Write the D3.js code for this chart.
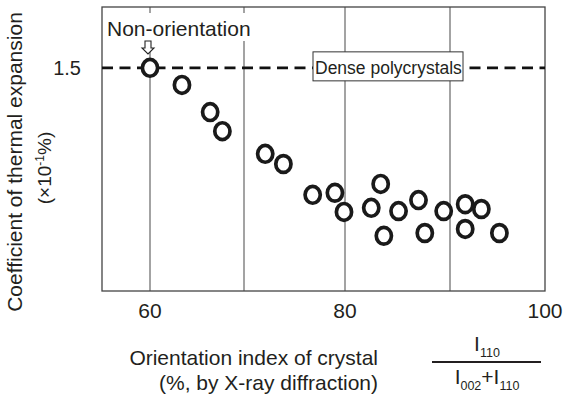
<!DOCTYPE html>
<html>
<head>
<meta charset="utf-8">
<script src="https://cdn.jsdelivr.net/npm/d3@7"></script>
<style>
  body { margin: 0; background: #ffffff; }
  text { font-family: "Liberation Sans", Arial, sans-serif; fill: #231f20; }
</style>
</head>
<body>
<div id="chart"></div>
<script>
// orientation index (%) and thermal expansion (x10^-1 %)
var orientation = [60.0, 63.4, 66.4, 67.7, 72.1, 73.9, 76.8, 79.0, 79.9, 82.5,
  83.4, 83.7, 85.1, 87.0, 87.6, 89.4, 91.6, 91.6, 93.3, 95.2];
var expansion = [1.500, 1.458, 1.391, 1.344, 1.288, 1.263, 1.187, 1.192, 1.145, 1.155,
  1.214, 1.086, 1.147, 1.174, 1.093, 1.147, 1.164, 1.103, 1.152, 1.093];
var xTicks = [60, 80, 100];
var gridTicks = [60, 70, 80, 90];
var yTicks = [1.5];
var densePoly = 1.5;

var W = 563, H = 394;
var pLeft = 102, pRight = 545, pTop = 7, pBottom = 291;

var svg = d3.select("#chart")
    .append("svg")
    .attr("width", W)
    .attr("height", H);

// the original scan is not quite even between gridlines
var x = d3.scaleLinear()
    .domain([55, 60, 70, 80, 90, 100])
    .range([pLeft + 1, 150, 244, 345, 450, pRight]);

var y = d3.scaleLinear()
    .domain([0.95, 1.65])
    .range([pBottom, pTop]);

//GRIDLINES
svg.selectAll(".grid")
    .data(gridTicks)
    .enter()
    .append("line")
    .attr("class", "grid")
    .attr("x1", function (d) { return x(d); })
    .attr("x2", function (d) { return x(d); })
    .attr("y1", pTop)
    .attr("y2", pBottom)
    .style("stroke", "#666")
    .style("stroke-width", 1.2);

//FRAME
svg.append("rect")
    .attr("x", pLeft)
    .attr("y", pTop)
    .attr("width", pRight - pLeft)
    .attr("height", pBottom - pTop)
    .style("fill", "none")
    .style("stroke", "#444")
    .style("stroke-width", 1.3);

//DENSE POLYCRYSTALS LINE
svg.append("line")
    .attr("x1", pLeft)
    .attr("x2", pRight)
    .attr("y1", y(densePoly))
    .attr("y2", y(densePoly))
    .style("stroke", "#111")
    .style("stroke-width", 2.6)
    .style("stroke-dasharray", "11,6.5");

svg.append("rect")
    .attr("x", 313)
    .attr("y", y(densePoly) - 16)
    .attr("width", 150)
    .attr("height", 29)
    .style("fill", "#fff")
    .style("stroke", "#333")
    .style("stroke-width", 1);

svg.append("text")
    .attr("x", 315)
    .attr("y", y(densePoly) + 6)
    .style("font-size", "17.5px")
    .text("Dense polycrystals");

//NON-ORIENTATION LABEL + ARROW
svg.append("rect")
    .attr("x", 105)
    .attr("y", 13)
    .attr("width", 150)
    .attr("height", 28)
    .style("fill", "#fff");

svg.append("text")
    .attr("x", 107)
    .attr("y", 36)
    .style("font-size", "21px")
    .text("Non-orientation");

var ax = x(orientation[0]) - 2;
svg.append("path")
    .attr("d", "M" + (ax - 3) + ",41 L" + (ax + 3) + ",41 L" + (ax + 3) + ",48 L" + (ax + 6) + ",48 L" + ax + ",54 L" +
      (ax - 6) + ",48 L" + (ax - 3) + ",48 Z")
    .style("fill", "#fff")
    .style("stroke", "#222")
    .style("stroke-width", 1.1);

//POINTS
svg.selectAll(".pt")
    .data(orientation)
    .enter()
    .append("ellipse")
    .attr("class", "pt")
    .attr("cx", function (d) { return x(d); })
    .attr("cy", function (d, i) { return y(expansion[i]); })
    .attr("rx", 7.6)
    .attr("ry", 8.4)
    .style("fill", "#fff")
    .style("stroke", "#1a1a1a")
    .style("stroke-width", 3.7);

//TICK LABELS
svg.selectAll(".xtick")
    .data(xTicks)
    .enter()
    .append("text")
    .attr("class", "xtick")
    .attr("x", function (d) { return x(d); })
    .attr("y", 318)
    .attr("text-anchor", "middle")
    .style("font-size", "21px")
    .text(function (d) { return d; });

svg.selectAll(".ytick")
    .data(yTicks)
    .enter()
    .append("text")
    .attr("class", "ytick")
    .attr("x", 81)
    .attr("y", function (d) { return y(d) + 7; })
    .attr("text-anchor", "end")
    .style("font-size", "20px")
    .text(function (d) { return d.toFixed(1); });

//Y AXIS TITLE
svg.append("text")
    .attr("transform", "translate(22,162) rotate(-90)")
    .attr("text-anchor", "middle")
    .style("font-size", "21px")
    .text("Coefficient of thermal expansion");

var yUnit = svg.append("text")
    .attr("transform", "translate(51,168) rotate(-90)")
    .attr("text-anchor", "middle")
    .style("font-size", "19px");
yUnit.append("tspan").text("(\u00d710");
yUnit.append("tspan").attr("dy", -7).style("font-size", "12px").text("-1");
yUnit.append("tspan").attr("dy", 7).text("%)");

//X AXIS TITLE
svg.append("text")
    .attr("x", 378)
    .attr("y", 365)
    .attr("text-anchor", "end")
    .style("font-size", "21px")
    .text("Orientation index of crystal");

svg.append("text")
    .attr("x", 378)
    .attr("y", 390)
    .attr("text-anchor", "end")
    .style("font-size", "21px")
    .text("(%, by X-ray diffraction)");

// fraction I110 / (I002 + I110)
var fx = 487;
var num = svg.append("text")
    .attr("x", fx)
    .attr("y", 351)
    .attr("text-anchor", "middle")
    .style("font-size", "21px");
num.append("tspan").text("I");
num.append("tspan").attr("dy", 6).style("font-size", "12.5px").text("110");

svg.append("line")
    .attr("x1", 432)
    .attr("x2", 541)
    .attr("y1", 362)
    .attr("y2", 362)
    .style("stroke", "#231f20")
    .style("stroke-width", 2);

var den = svg.append("text")
    .attr("x", fx)
    .attr("y", 384)
    .attr("text-anchor", "middle")
    .style("font-size", "21px");
den.append("tspan").text("I");
den.append("tspan").attr("dy", 6).style("font-size", "12.5px").text("002");
den.append("tspan").attr("dy", -6).text("+I");
den.append("tspan").attr("dy", 6).style("font-size", "12.5px").text("110");
</script>
</body>
</html>
